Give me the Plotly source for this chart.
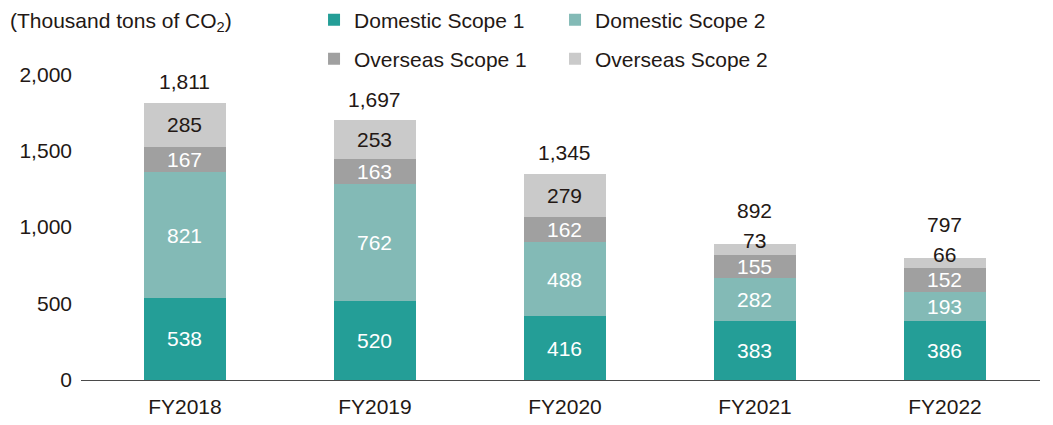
import plotly.graph_objects as go

years = ["FY2018", "FY2019", "FY2020", "FY2021", "FY2022"]
dom_s1 = [538, 520, 416, 383, 386]
dom_s2 = [821, 762, 488, 282, 193]
ovs_s1 = [167, 163, 162, 155, 152]
ovs_s2 = [285, 253, 279, 73, 66]
totals = [1811, 1697, 1345, 892, 797]

series = [
    ("Domestic Scope 1", dom_s1, "#249e97", "white", "legend"),
    ("Domestic Scope 2", dom_s2, "#83bab6", "white", "legend"),
    ("Overseas Scope 1", ovs_s1, "#a0a0a0", "white", "legend2"),
    ("Overseas Scope 2", ovs_s2, "#cacaca", "#231815", "legend2"),
]

font = "Liberation Sans, Arial, sans-serif"
ink = "#231815"
fs = 21

fig = go.Figure()
annots = []
base = [0] * len(years)
for name, vals, color, tcol, leg in series:
    fig.add_trace(go.Bar(
        x=years, y=vals, name=name, width=0.43, legend=leg,
        marker=dict(color=color, line=dict(width=0)),
        hoverinfo="name+y",
    ))
    for i, v in enumerate(vals):
        mid = base[i] + v / 2
        # thin segments get their label nudged up
        shift = 9 if v < 100 else 0
        annots.append(dict(x=years[i], y=mid, text=str(v), showarrow=False,
                           yshift=shift, font=dict(size=fs, color=tcol, family=font)))
        base[i] += v

for i, t in enumerate(totals):
    extra = 12 if ovs_s2[i] < 100 else 0
    annots.append(dict(x=years[i], y=t, text=f"{t:,}", showarrow=False,
                       yanchor="bottom", yshift=8 + extra,
                       font=dict(size=fs, color=ink, family=font)))

annots.append(dict(xref="paper", yref="paper", x=-0.076, y=1.115, xanchor="left",
                   yanchor="middle", showarrow=False,
                   text="(Thousand tons of CO<sub>2</sub>)",
                   font=dict(size=fs, color=ink, family=font)))

leg_common = dict(orientation="h", xanchor="left", yanchor="middle",
                  traceorder="normal", entrywidth=196, entrywidthmode="pixels",
                  font=dict(size=fs, color=ink, family=font), itemclick=False,
                  bgcolor="rgba(0,0,0,0)")

# page body adds an 8px margin, so the figure is a bit smaller and shifted
fig.update_layout(
    barmode="stack",
    width=1045, height=417,
    margin=dict(l=73, r=13, t=51, b=45, autoexpand=False),
    paper_bgcolor="white", plot_bgcolor="white",
    font=dict(family=font, color=ink, size=fs),
    annotations=annots,
    showlegend=True,
    legend=dict(x=0.243, y=1.121, **leg_common),
    legend2=dict(x=0.243, y=1.0, **leg_common),
)
fig.update_xaxes(range=[-0.547, 4.5], showline=True, linecolor="#4a4a4a", linewidth=1,
                 ticks="", ticklabelstandoff=8, tickfont=dict(size=fs, color=ink))
fig.update_yaxes(range=[0, 2100], showgrid=False, zeroline=False, showline=False,
                 tickvals=[0, 500, 1000, 1500, 2000], tickformat=",",
                 ticks="", ticklen=0, ticklabelstandoff=8,
                 tickfont=dict(size=fs, color=ink))

fig.write_html("out.html")
